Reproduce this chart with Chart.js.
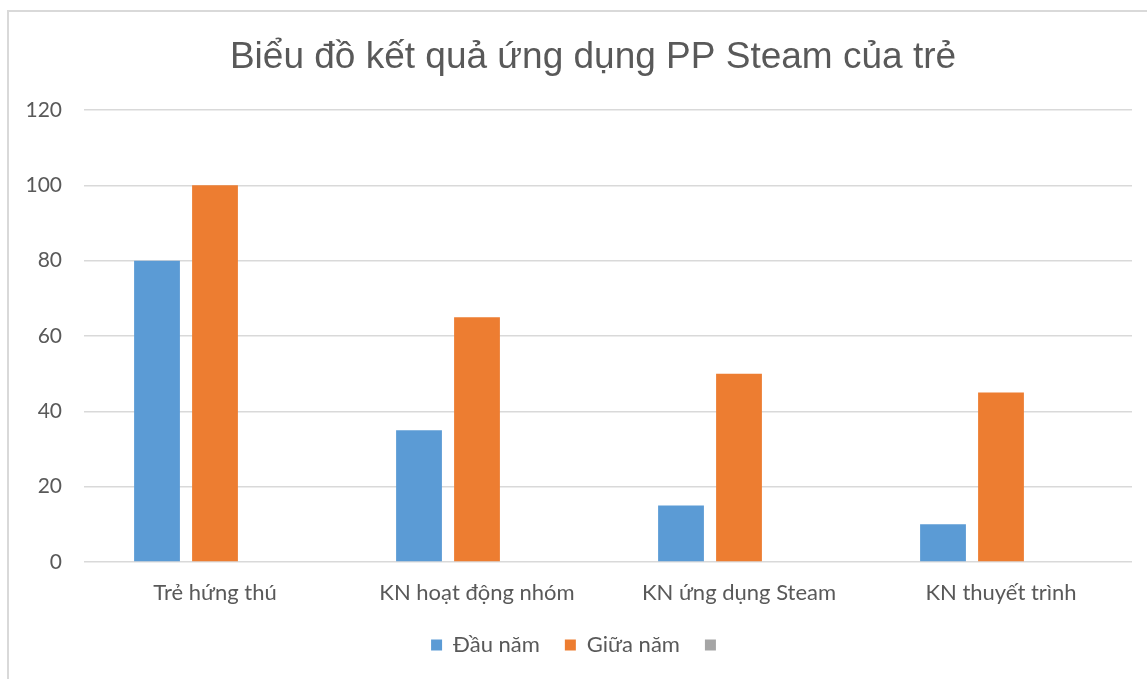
<!DOCTYPE html>
<html>
<head>
<meta charset="utf-8">
<script src="https://cdn.jsdelivr.net/npm/chart.js"></script>
<style>
  html, body { margin: 0; padding: 0; background: #fff; overflow: hidden; }
  .frame {
    position: absolute; left: 7px; top: 10px;
    width: 1200px; height: 720px;
    border: 2px solid #d9d9d9;
  }
  .chart-box { position: absolute; left: 0; top: 0; width: 1147px; height: 679px; }
</style>
</head>
<body>
<div class="frame"></div>
<div class="chart-box"><canvas id="steamChart"></canvas></div>
<script>
const categories = ['Trẻ hứng thú', 'KN hoạt động nhóm', 'KN ứng dụng Steam', 'KN thuyết trình'];
const dauNam = [80, 35, 15, 10];
const giuaNam = [100, 65, 50, 45];
const series3 = [null, null, null, null];
const yTicks = [0, 20, 40, 60, 80, 100, 120];

const grey = '#595959';

// nudge title / legend sideways like the original layout
const shiftBoxes = {
  id: 'shiftBoxes',
  afterLayout(chart) {
    if (chart.titleBlock) { chart.titleBlock.left += 27; chart.titleBlock.right += 27; }
    if (chart.legend) { chart.legend.left += 13; chart.legend.right += 13; }
  }
};

new Chart(document.getElementById('steamChart'), {
  type: 'bar',
  data: {
    labels: categories,
    datasets: [
      { label: 'Đầu năm', data: dauNam, backgroundColor: '#5B9BD5' },
      { label: 'Giữa năm', data: giuaNam, backgroundColor: '#ED7D31' },
      { label: '', data: series3, backgroundColor: '#A5A5A5' }
    ]
  },
  plugins: [shiftBoxes],
  options: {
    responsive: true,
    maintainAspectRatio: false,
    animation: false,
    categoryPercentage: 0.664,
    barPercentage: 0.79,
    layout: { padding: { left: 0, right: 15, top: 15, bottom: 13 } },
    scales: {
      x: {
        grid: { display: false },
        border: { display: false },
        ticks: { color: grey, font: { family: 'Lato', size: 22 }, padding: 10, maxRotation: 0 },
        afterFit: axis => { axis.height = 47; }
      },
      y: {
        min: 0,
        max: yTicks[yTicks.length - 1],
        afterBuildTicks: axis => { axis.ticks = yTicks.map(v => ({ value: v })); },
        grid: { color: '#d9d9d9', lineWidth: 1.5, drawTicks: false },
        border: { display: false },
        ticks: { color: grey, font: { family: 'Lato', size: 21 }, padding: 22 },
        afterFit: axis => { axis.width = 84; }
      }
    },
    plugins: {
      title: {
        display: true,
        text: 'Biểu đồ kết quả ứng dụng PP Steam của trẻ',
        color: grey,
        font: { family: 'Liberation Sans', size: 37, weight: 'normal', lineHeight: 1.2 },
        padding: { top: 20.8, bottom: 29.8 }
      },
      legend: {
        position: 'bottom',
        labels: {
          color: grey,
          font: { family: 'Lato', size: 22 },
          boxWidth: 11,
          boxHeight: 11,
          padding: 25
        }
      },
      tooltip: { enabled: false }
    }
  }
});
</script>
</body>
</html>
